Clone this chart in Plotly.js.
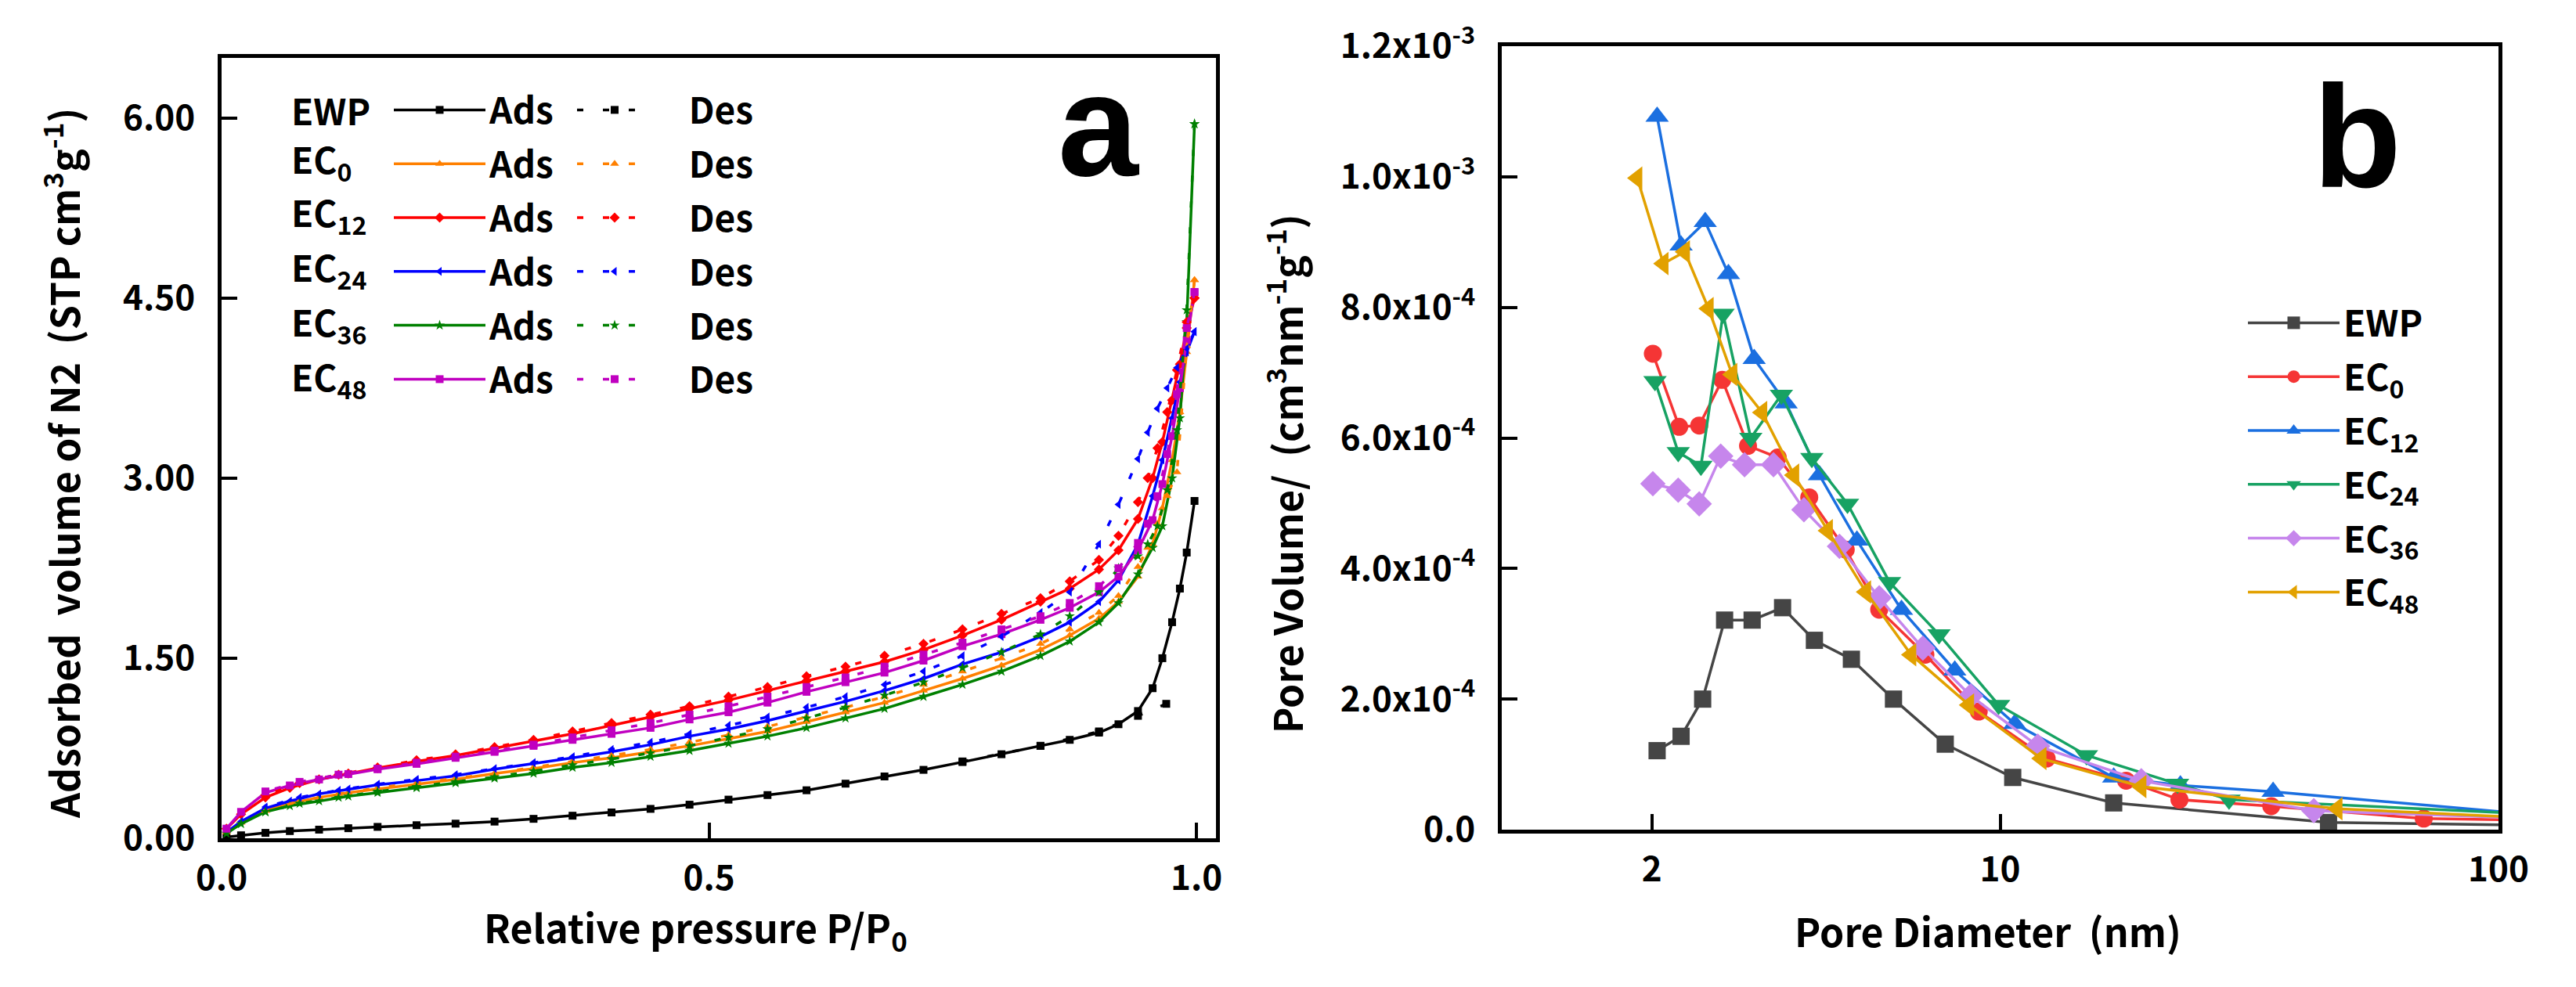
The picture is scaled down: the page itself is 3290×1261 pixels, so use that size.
<!DOCTYPE html>
<html>
<head>
<meta charset="utf-8">
<script src="https://cdn.plot.ly/plotly-3.0.1.min.js"></script>
<style>
  html, body { margin: 0; padding: 0; background: #fff; }
  #plot { width: 3290px; height: 1261px; }
</style>
</head>
<body>
<div id="plot"></div>
<script>
// ---------- panel a: N2 isotherms ----------
const sampleNames = ['EWP', 'EC<sub>0</sub>', 'EC<sub>12</sub>', 'EC<sub>24</sub>', 'EC<sub>36</sub>', 'EC<sub>48</sub>'];

const pAds = [0.005, 0.02, 0.045, 0.07, 0.10, 0.13, 0.16, 0.20, 0.24, 0.28, 0.32, 0.36, 0.40, 0.44, 0.48, 0.52, 0.56,
    0.60, 0.64, 0.68, 0.72, 0.76, 0.80, 0.84, 0.87, 0.90, 0.92, 0.94, 0.955, 0.965, 0.975, 0.983, 0.99, 0.998];

const adsEWP  = [0.01, 0.025, 0.045, 0.06, 0.072, 0.084, 0.095, 0.109, 0.122, 0.139, 0.162, 0.188, 0.215, 0.245, 0.28, 0.322, 0.36,
    0.40, 0.455, 0.515, 0.57, 0.635, 0.70, 0.77, 0.82, 0.88, 0.95, 1.06, 1.25, 1.50, 1.80, 2.08, 2.38, 2.81];
const adsEC0  = [0.05, 0.13, 0.23, 0.29, 0.34, 0.38, 0.41, 0.45, 0.49, 0.54, 0.58, 0.63, 0.67, 0.72, 0.77, 0.83, 0.89,
    0.97, 1.05, 1.13, 1.23, 1.33, 1.44, 1.57, 1.69, 1.83, 1.97, 2.18, 2.45, 2.75, 3.15, 3.55, 4.05, 4.65];
const adsEC12 = [0.08, 0.20, 0.34, 0.42, 0.49, 0.54, 0.585, 0.64, 0.69, 0.75, 0.81, 0.87, 0.94, 1.01, 1.08, 1.15, 1.23,
    1.31, 1.39, 1.47, 1.57, 1.69, 1.82, 1.97, 2.08, 2.24, 2.40, 2.66, 3.00, 3.30, 3.65, 3.95, 4.25, 4.50];
const adsEC24 = [0.05, 0.14, 0.25, 0.31, 0.37, 0.41, 0.445, 0.48, 0.52, 0.575, 0.62, 0.67, 0.72, 0.78, 0.85, 0.91, 0.98,
    1.06, 1.14, 1.23, 1.33, 1.45, 1.55, 1.68, 1.80, 1.97, 2.15, 2.45, 2.85, 3.15, 3.50, 3.80, 4.05, 4.22];
const adsEC36 = [0.04, 0.12, 0.22, 0.27, 0.31, 0.35, 0.38, 0.42, 0.46, 0.50, 0.54, 0.59, 0.63, 0.68, 0.73, 0.79, 0.85,
    0.92, 1.00, 1.08, 1.18, 1.28, 1.39, 1.52, 1.64, 1.80, 1.96, 2.20, 2.42, 2.60, 3.00, 3.50, 4.30, 5.95];
const adsEC48 = [0.08, 0.22, 0.38, 0.44, 0.49, 0.535, 0.575, 0.62, 0.67, 0.72, 0.77, 0.82, 0.87, 0.92, 0.99, 1.05, 1.13,
    1.22, 1.30, 1.38, 1.48, 1.60, 1.70, 1.82, 1.92, 2.05, 2.18, 2.40, 2.65, 2.95, 3.35, 3.75, 4.15, 4.55];

const pDes = [0.998, 0.99, 0.98, 0.97, 0.96, 0.95, 0.94, 0.92, 0.90, 0.87, 0.84, 0.80, 0.76, 0.72, 0.68, 0.64, 0.60,
    0.56, 0.52, 0.48, 0.44, 0.40, 0.36, 0.32, 0.28, 0.24, 0.20, 0.16, 0.12, 0.08, 0.045];

const pDesEWP = [0.969, 0.94, 0.90, 0.84, 0.76];
const desEWP  = [1.12, 1.02, 0.89, 0.77, 0.64];
const desEC0  = [4.65, 4.10, 3.05, 2.85, 2.62, 2.42, 2.26, 2.02, 1.88, 1.74, 1.62, 1.50, 1.39, 1.28, 1.18, 1.09, 1.01,
    0.93, 0.86, 0.80, 0.74, 0.69, 0.64, 0.59, 0.54, 0.50, 0.46, 0.42, 0.37, 0.31, 0.23];
const desEC12 = [4.50, 4.30, 3.90, 3.55, 3.25, 3.00, 2.80, 2.52, 2.32, 2.14, 2.00, 1.87, 1.74, 1.62, 1.52, 1.43, 1.35,
    1.26, 1.18, 1.10, 1.03, 0.96, 0.89, 0.82, 0.76, 0.70, 0.65, 0.59, 0.53, 0.46, 0.36];
const desEC24 = [4.22, 4.08, 3.92, 3.75, 3.58, 3.38, 3.16, 2.78, 2.45, 2.05, 1.88, 1.68, 1.52, 1.39, 1.28, 1.18, 1.09,
    1.01, 0.94, 0.87, 0.80, 0.74, 0.68, 0.63, 0.58, 0.53, 0.49, 0.45, 0.40, 0.34, 0.26];
const desEC36 = [5.95, 4.40, 3.40, 2.90, 2.60, 2.45, 2.35, 2.25, 2.05, 1.85, 1.70, 1.55, 1.42, 1.30, 1.19, 1.09, 1.00,
    0.91, 0.84, 0.77, 0.71, 0.66, 0.61, 0.56, 0.51, 0.47, 0.43, 0.39, 0.34, 0.29, 0.22];
const desEC48 = [4.55, 4.25, 3.70, 3.20, 2.85, 2.62, 2.46, 2.25, 2.10, 1.96, 1.85, 1.74, 1.63, 1.53, 1.43, 1.34, 1.26,
    1.18, 1.10, 1.03, 0.96, 0.90, 0.84, 0.78, 0.73, 0.68, 0.63, 0.58, 0.53, 0.47, 0.39];

// ---------- panel b: pore size distribution ----------
const dEWP  = [2.05, 2.29, 2.53, 2.80, 3.18, 3.66, 4.24, 5.03, 6.11, 7.76, 10.6, 16.9, 45.6, 110];
const vEWP  = [1.21e-4, 1.43e-4, 2.0e-4, 3.21e-4, 3.21e-4, 3.40e-4, 2.90e-4, 2.61e-4, 2.0e-4, 1.31e-4, 0.80e-4, 0.41e-4, 0.11e-4, 0.07e-4];
const dEC0  = [2.01, 2.27, 2.49, 2.77, 3.12, 3.58, 4.14, 4.90, 5.72, 7.08, 9.06, 12.4, 17.9, 22.9, 35.0, 70.8, 110];
const vEC0  = [7.29e-4, 6.17e-4, 6.19e-4, 6.89e-4, 5.88e-4, 5.70e-4, 5.09e-4, 4.29e-4, 3.37e-4, 2.68e-4, 1.81e-4, 1.09e-4, 0.75e-4, 0.46e-4, 0.36e-4, 0.17e-4, 0.15e-4];
const dEC12 = [2.05, 2.29, 2.56, 2.85, 3.21, 3.72, 4.34, 5.16, 6.34, 8.11, 10.7, 16.9, 23.0, 35.3, 110];
const vEC12 = [1.092e-3, 8.95e-4, 9.31e-4, 8.51e-4, 7.21e-4, 6.53e-4, 5.43e-4, 4.43e-4, 3.37e-4, 2.44e-4, 1.62e-4, 0.80e-4, 0.68e-4, 0.58e-4, 0.25e-4];
const dEC24 = [2.03, 2.26, 2.51, 2.78, 3.16, 3.64, 4.19, 4.94, 6.0, 7.54, 9.93, 14.9, 22.7, 28.8, 110];
const vEC24 = [6.87e-4, 5.78e-4, 5.57e-4, 7.90e-4, 6.0e-4, 6.66e-4, 5.69e-4, 4.99e-4, 3.79e-4, 2.99e-4, 1.91e-4, 1.14e-4, 0.70e-4, 0.46e-4, 0.25e-4];
const dEC36 = [2.01, 2.26, 2.49, 2.75, 3.07, 3.51, 4.04, 4.76, 5.72, 7.0, 8.73, 11.9, 19.2, 42.6, 110];
const vEC36 = [5.30e-4, 5.20e-4, 4.99e-4, 5.72e-4, 5.59e-4, 5.59e-4, 4.90e-4, 4.34e-4, 3.55e-4, 2.78e-4, 2.05e-4, 1.28e-4, 0.75e-4, 0.29e-4, 0.18e-4];
const dEC48 = [1.87, 2.11, 2.33, 2.60, 2.90, 3.33, 3.86, 4.51, 5.38, 6.63, 8.66, 12.1, 19.2, 47.5, 110];
const vEC48 = [9.98e-4, 8.67e-4, 8.85e-4, 7.98e-4, 6.97e-4, 6.39e-4, 5.43e-4, 4.58e-4, 3.64e-4, 2.68e-4, 1.91e-4, 1.09e-4, 0.66e-4, 0.32e-4, 0.19e-4];

const yTicksB = [0, 2e-4, 4e-4, 6e-4, 8e-4, 1.0e-3, 1.2e-3];
const yTickTextB = ['0.0', '2.0x10<sup>-4</sup>', '4.0x10<sup>-4</sup>', '6.0x10<sup>-4</sup>',
    '8.0x10<sup>-4</sup>', '1.0x10<sup>-3</sup>', '1.2x10<sup>-3</sup>'];

// page is 3290 x 1261, margins are 0 so paper coords map straight to pixels
const W = 3290, H = 1261;
function px(x) { return x / W; }
function py(y) { return 1 - y / H; }

const FONT = '"Noto Sans CJK SC", "Noto Sans", sans-serif';

function runPlot() {
    var plotdiv = document.querySelector('#plot');

    var colorsA = ['#000000', '#ff8000', '#ff0000', '#0000ff', '#008000', '#c000c0'];
    var symbolsA = ['square', 'triangle-up', 'diamond', 'triangle-left', 'star', 'square'];
    var adsY = [adsEWP, adsEC0, adsEC12, adsEC24, adsEC36, adsEC48];
    var desX = [pDesEWP, pDes, pDes, pDes, pDes, pDes];
    var desY = [desEWP, desEC0, desEC12, desEC24, desEC36, desEC48];

    var data = [];

    for (var i = 0; i < 6; i++) {
        data.push({
            x: pAds, y: adsY[i],
            type: 'scatter', mode: 'lines+markers',
            name: 'Ads', legend: 'legend', legendgroup: 'a' + i,
            line: { color: colorsA[i], width: 3.5 },
            marker: { color: colorsA[i], symbol: symbolsA[i], size: 10 },
            xaxis: 'x', yaxis: 'y',
        });
    }
    for (var i = 0; i < 6; i++) {
        data.push({
            x: desX[i], y: desY[i],
            type: 'scatter', mode: 'lines+markers',
            name: '&nbsp;&nbsp;&nbsp;&nbsp;Des', legend: 'legend2', legendgroup: 'd' + i,
            line: { color: colorsA[i], width: 3.5, dash: '8px,25px' },
            marker: { color: colorsA[i], symbol: symbolsA[i], size: 10 },
            xaxis: 'x', yaxis: 'y',
        });
    }

    var colorsB = ['#454545', '#f53535', '#1b6fe0', '#17a263', '#c686ec', '#e2a100'];
    var symbolsB = ['square', 'circle', 'triangle-up', 'triangle-down', 'diamond', 'triangle-left'];
    var sizesB = [22, 23, 26, 26, 25, 26];
    var dB = [dEWP, dEC0, dEC12, dEC24, dEC36, dEC48];
    var vB = [vEWP, vEC0, vEC12, vEC24, vEC36, vEC48];

    for (var i = 0; i < 6; i++) {
        data.push({
            x: dB[i], y: vB[i],
            type: 'scatter', mode: 'lines+markers',
            name: sampleNames[i], legend: 'legend3', legendgroup: 'b' + i,
            line: { color: colorsB[i], width: 3.5 },
            marker: { color: colorsB[i], symbol: symbolsB[i], size: sizesB[i] },
            xaxis: 'x2', yaxis: 'y2',
            cliponaxis: true,
        });
    }

    var axisCommon = {
        showline: true, linecolor: '#000', linewidth: 5, mirror: true,
        ticks: 'inside', ticklen: 20, tickwidth: 4, tickcolor: '#000',
        showgrid: false, zeroline: false, fixedrange: true,
        tickfont: { family: FONT, size: 44, color: '#000', weight: 'bold' },
    };

    var legendCommon = {
        bgcolor: 'rgba(0,0,0,0)', borderwidth: 0,
        font: { family: FONT, size: 46, color: '#000', weight: 'bold' },
        xanchor: 'left', yanchor: 'top',
        tracegroupgap: 6,
    };

    var annotations = [];
    // sample labels in front of the Ads/Des legend of panel a
    var rowY = [140, 205, 273, 343, 413, 483];
    for (var i = 0; i < 6; i++) {
        annotations.push({
            text: sampleNames[i], xref: 'paper', yref: 'paper',
            x: px(370), y: py(rowY[i]), xanchor: 'left', yanchor: 'middle',
            showarrow: false, font: { family: FONT, size: 46, color: '#000', weight: 'bold' },
        });
    }
    var titleFont = { family: FONT, size: 50, color: '#000', weight: 'bold' };
    annotations.push({
        text: 'Adsorbed&nbsp; volume of N2&nbsp; (STP cm<sup>3</sup>g<sup>-1</sup>)',
        xref: 'paper', yref: 'paper', x: px(78), y: py(592), textangle: -90,
        xanchor: 'center', yanchor: 'middle', showarrow: false, font: titleFont,
    });
    annotations.push({
        text: 'Relative pressure P/P<sub>0</sub>',
        xref: 'paper', yref: 'paper', x: px(888), y: py(1186),
        xanchor: 'center', yanchor: 'middle', showarrow: false, font: titleFont,
    });
    annotations.push({
        text: 'Pore Volume/&nbsp; (cm<sup>3</sup>nm<sup>-1</sup>g<sup>-1</sup>)',
        xref: 'paper', yref: 'paper', x: px(1640), y: py(605), textangle: -90,
        xanchor: 'center', yanchor: 'middle', showarrow: false, font: titleFont,
    });
    annotations.push({
        text: 'Pore Diameter&nbsp; (nm)',
        xref: 'paper', yref: 'paper', x: px(2539), y: py(1188),
        xanchor: 'center', yanchor: 'middle', showarrow: false, font: titleFont,
    });
    var letterFont = { family: '"Liberation Sans", Arial, sans-serif', size: 185, color: '#000', weight: 'bold' };
    annotations.push({
        text: 'a', xref: 'paper', yref: 'paper', x: px(1403), y: py(160),
        xanchor: 'center', yanchor: 'middle', showarrow: false, font: letterFont,
    });
    annotations.push({
        text: 'b', xref: 'paper', yref: 'paper', x: px(3010), y: py(175),
        xanchor: 'center', yanchor: 'middle', showarrow: false, font: letterFont,
    });

    var layout = {
        width: W, height: H,
        margin: { l: 0, r: 0, t: 0, b: 0, pad: 0 },
        paper_bgcolor: '#fff', plot_bgcolor: '#fff',
        showlegend: true,
        font: { family: FONT, color: '#000' },
        xaxis: Object.assign({}, axisCommon, {
            domain: [px(283), px(1553)], anchor: 'y',
            range: [0, 1.02], tickvals: [0, 0.5, 1.0], ticktext: ['0.0', '0.5', '1.0'],
            ticklabelstandoff: 8,
        }),
        yaxis: Object.assign({}, axisCommon, {
            domain: [py(1071), py(74)], anchor: 'x',
            range: [0, 6.5], tickvals: [0, 1.5, 3, 4.5, 6], ticktext: ['0.00', '1.50', '3.00', '4.50', '6.00'],
            ticklabelstandoff: 20,
        }),
        xaxis2: Object.assign({}, axisCommon, {
            domain: [px(1918), px(3191)], anchor: 'y2',
            type: 'log', range: [0, 2], tickvals: [2, 10, 100], ticktext: ['2', '10', '100'],
            ticklabelstandoff: 8,
        }),
        yaxis2: Object.assign({}, axisCommon, {
            domain: [py(1060), py(59)], anchor: 'x2',
            range: [0, 1.2e-3], tickvals: yTicksB, ticktext: yTickTextB,
            ticklabelstandoff: 20,
        }),
        legend: Object.assign({}, legendCommon, { x: px(498), y: py(104), itemwidth: 117 }),
        legend2: Object.assign({}, legendCommon, { x: px(732), y: py(104), itemwidth: 96 }),
        legend3: Object.assign({}, legendCommon, { x: px(2866), y: py(376), itemwidth: 117 }),
        annotations: annotations,
    };

    var config = { displayModeBar: false, staticPlot: true };

    Plotly.newPlot(plotdiv, data, layout, config);
}

runPlot();
</script>
</body>
</html>
